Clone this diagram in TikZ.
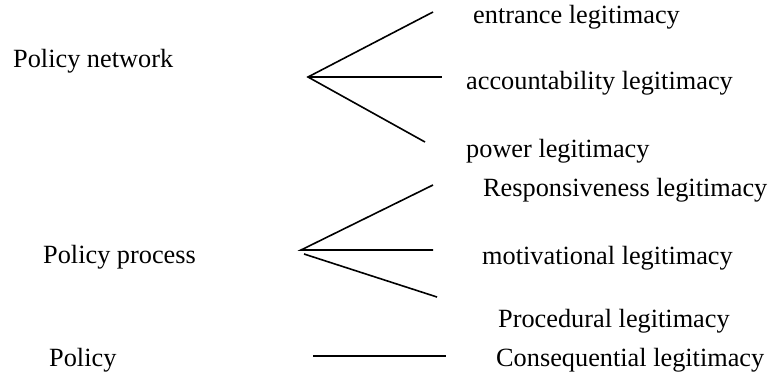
\documentclass[tikz,border=0pt]{standalone}
\usepackage{fontspec}
\setmainfont{Liberation Serif}
\begin{document}
\begin{tikzpicture}[x=1pt,y=-1pt,
  lbl/.style={anchor=base west,inner sep=0pt,font=\fontsize{26.3}{30}\selectfont},
  branch/.style={line width=1.6pt,black}]
\useasboundingbox (0,0) rectangle (771,376);
% left labels
\node[lbl] (pn) at (13,67) {Policy network};
\node[lbl] (pp) at (43,263) {Policy process};
\node[lbl] (po) at (49,366) {Policy};
% right labels
\node[lbl] (l1) at (473,23) {entrance legitimacy};
\node[lbl] (l2) at (466,89) {accountability legitimacy};
\node[lbl] (l3) at (466,157) {power legitimacy};
\node[lbl] (l4) at (483,196) {Responsiveness legitimacy};
\node[lbl] (l5) at (482,264) {motivational legitimacy};
\node[lbl] (l6) at (498,327) {Procedural legitimacy};
\node[lbl] (l7) at (496,366) {Consequential legitimacy};
% group 1
\coordinate (a1) at (308,77);
\coordinate (e11) at (433,12);
\coordinate (e12) at (442,77);
\coordinate (e13) at (425,142);
\draw[branch] (e11) -- (a1) -- (e13);
\draw[branch] (a1) -- (e12);
% group 2
\coordinate (a2) at (301,250);
\coordinate (e21) at (433,185);
\coordinate (e22) at (433,250);
\coordinate (a2b) at (304,254);
\coordinate (e23) at (437,297);
\draw[branch] (e21) -- (a2) -- (e22);
\draw[branch] (a2b) -- (e23);
% group 3
\coordinate (a3) at (313,356);
\coordinate (e31) at (446,356);
\draw[branch] (a3) -- (e31);
\end{tikzpicture}
\end{document}
